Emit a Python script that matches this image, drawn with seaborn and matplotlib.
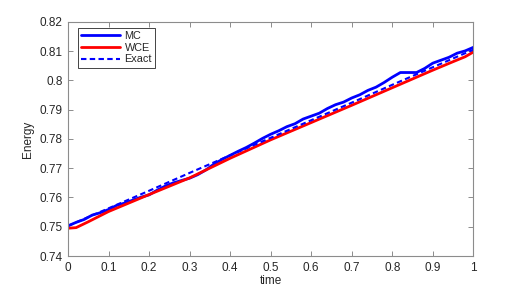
import numpy as np
import pandas as pd
import matplotlib
matplotlib.use("Agg")
import matplotlib.pyplot as plt
import seaborn as sns

# ---- data ----
mc_t = [0.00, 0.02, 0.04, 0.06, 0.08, 0.10, 0.12, 0.14, 0.16, 0.18,
        0.20, 0.22, 0.24, 0.26, 0.28, 0.30, 0.32, 0.34, 0.36, 0.38,
        0.40, 0.42, 0.44, 0.46, 0.48, 0.50, 0.52, 0.54, 0.56, 0.58,
        0.60, 0.62, 0.64, 0.66, 0.68, 0.70, 0.72, 0.74, 0.76, 0.78,
        0.80, 0.82, 0.84, 0.86, 0.88, 0.90, 0.92, 0.94, 0.96, 0.98, 1.00]
mc_energy = [0.7503, 0.7515, 0.7525, 0.7540, 0.7548, 0.7559, 0.7573, 0.7581, 0.7591, 0.7601,
             0.7609, 0.7625, 0.7639, 0.7650, 0.7658, 0.7666, 0.7678, 0.7694, 0.7714, 0.7730,
             0.7744, 0.7758, 0.7771, 0.7786, 0.7802, 0.7816, 0.7828, 0.7842, 0.7852, 0.7868,
             0.7878, 0.7888, 0.7904, 0.7917, 0.7926, 0.7940, 0.7951, 0.7966, 0.7977, 0.7993,
             0.8011, 0.8027, 0.8027, 0.8027, 0.8041, 0.8059, 0.8069, 0.8079, 0.8093, 0.8101, 0.8113]

wce_t = [0.00, 0.02, 0.05, 0.10, 0.20, 0.30, 0.40, 0.50, 0.60, 0.70, 0.80, 0.90, 0.95, 0.98, 1.00]
wce_energy = [0.7495, 0.7497, 0.7517, 0.7552, 0.7610, 0.7667, 0.7734, 0.7797, 0.7856,
              0.7915, 0.7975, 0.8035, 0.8064, 0.8081, 0.8097]

exact_t = [0.0, 0.1, 0.2, 0.3, 0.4, 0.5, 0.6, 0.7, 0.8, 0.9, 1.0]
exact_energy = [0.7503, 0.7563, 0.7623, 0.7684, 0.7744, 0.7804, 0.7864, 0.7924, 0.7985, 0.8045, 0.8105]

x_ticks = [0, 0.1, 0.2, 0.3, 0.4, 0.5, 0.6, 0.7, 0.8, 0.9, 1]
x_ticklabels = ["0", "0.1", "0.2", "0.3", "0.4", "0.5", "0.6", "0.7", "0.8", "0.9", "1"]
y_ticks = [0.74, 0.75, 0.76, 0.77, 0.78, 0.79, 0.8, 0.81, 0.82]
y_ticklabels = ["0.74", "0.75", "0.76", "0.77", "0.78", "0.79", "0.8", "0.81", "0.82"]

# ---- style ----
sns.set_style("ticks")
plt.rcParams["font.family"] = ["Liberation Sans", "DejaVu Sans"]

fig = plt.figure(figsize=(5.23, 2.88), dpi=100)
ax = fig.add_axes([0.13, 0.111, 0.775, 0.813])

df_mc = pd.DataFrame({"time": mc_t, "Energy": mc_energy})
df_wce = pd.DataFrame({"time": wce_t, "Energy": wce_energy})
df_ex = pd.DataFrame({"time": exact_t, "Energy": exact_energy})

sns.lineplot(data=df_mc, x="time", y="Energy", ax=ax, color=(0, 0, 1), lw=2.0, label="MC")
sns.lineplot(data=df_wce, x="time", y="Energy", ax=ax, color=(1, 0, 0), lw=2.0, label="WCE")
sns.lineplot(data=df_ex, x="time", y="Energy", ax=ax, color=(0, 0, 1), lw=1.5, label="Exact")
ax.lines[2].set_dashes([2.6, 1.6])

ax.set_xlim(0, 1)
ax.set_ylim(0.74, 0.82)
ax.set_xticks(x_ticks)
ax.set_xticklabels(x_ticklabels)
ax.set_yticks(y_ticks)
ax.set_yticklabels(y_ticklabels)

axis_col = "#8c8c8c"
for s in ax.spines.values():
    s.set_visible(True)
    s.set_color(axis_col)
    s.set_linewidth(0.8)
ax.tick_params(direction="in", length=3.5, width=0.7, color=axis_col,
               labelsize=8.5, labelcolor="#262626",
               top=True, right=True, pad=4)

ax.set_xlabel("time", fontsize=8.5, color="#262626", labelpad=1)
ax.set_ylabel("Energy", fontsize=8.5, color="#262626", labelpad=4)

leg = ax.legend(loc="upper left", bbox_to_anchor=(10 / 405, 1 - 6 / 234),
                borderaxespad=0, fontsize=7.8, frameon=True, fancybox=False,
                handlelength=3.6, handletextpad=0.4, borderpad=0.3,
                labelspacing=0.15)
leg.get_frame().set_edgecolor("#262626")
leg.get_frame().set_linewidth(0.6)
leg.get_frame().set_alpha(1)

fig.savefig("out.png", dpi=100)
